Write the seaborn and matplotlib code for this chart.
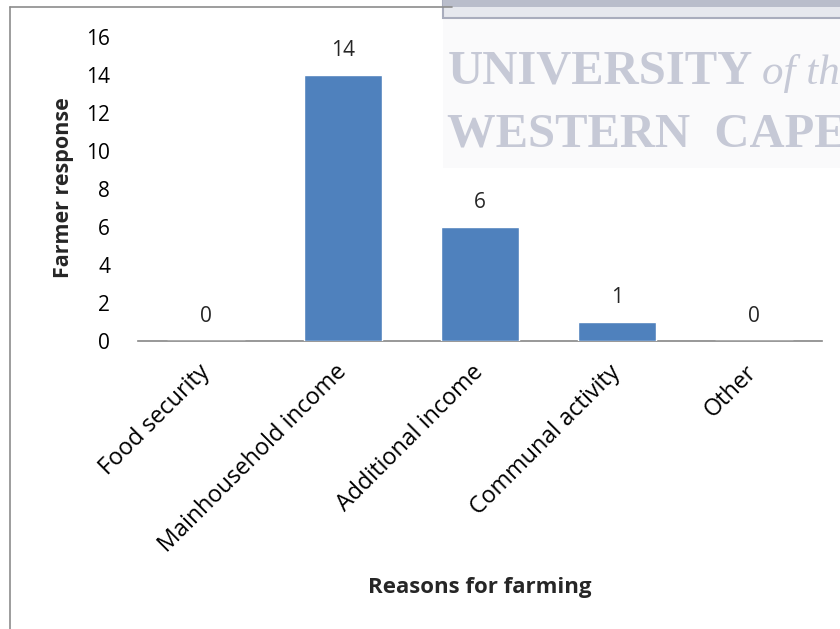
import matplotlib
matplotlib.use("Agg")
import matplotlib.pyplot as plt
import seaborn as sns
import pandas as pd
from matplotlib.patches import Rectangle

categories = ["Food security", "Mainhousehold income", "Additional income",
              "Communal activity", "Other"]
responses = [0, 14, 6, 1, 0]
yticks = [0, 2, 4, 6, 8, 10, 12, 14, 16]

df = pd.DataFrame({"reason": categories, "count": responses})

sns.set_theme(style="white")
plt.rcParams["font.family"] = ["Open Sans", "DejaVu Sans"]

fig = plt.figure(figsize=(8.4, 6.29), dpi=100)
ax = fig.add_axes([138/840, 1-341/629, (822-138)/840, (341-37)/629])

W, H = 840, 629
# watermark / background decoration
fig.patches.append(Rectangle((443/W, 1-168/H), 400/W, 150/H,
                             transform=fig.transFigure, facecolor="#fafafb",
                             edgecolor="none", zorder=0))
fig.patches.append(Rectangle((443/W, 1-18/H), 400/W, 20/H,
                             transform=fig.transFigure, facecolor="#e6e8ee",
                             edgecolor="#a9adbd", lw=1.5, zorder=0))
fig.patches.append(Rectangle((443/W, 1-7/H), 400/W, 8/H,
                             transform=fig.transFigure, facecolor="#b9bdcb",
                             edgecolor="none", zorder=0))
wm = "#c6c9d6"
fig.text(448/W, 1-84/H, "UNIVERSITY", family="Liberation Serif",
         fontsize=35, fontweight="bold", color=wm, va="baseline", zorder=0)
fig.text(762/W, 1-84/H, "of the", family="Liberation Serif",
         fontsize=31, style="italic", color=wm, va="baseline", zorder=0)
fig.text(447/W, 1-147/H, "WESTERN  CAPE", family="Liberation Serif",
         fontsize=35, fontweight="bold", color=wm, va="baseline", zorder=0)
# outer frame
fig.add_artist(plt.Line2D([10/W, 10/W], [0, 1-7/H], transform=fig.transFigure,
                          color="#8c8c8c", lw=1.2))
fig.add_artist(plt.Line2D([10/W, 452/W], [1-7/H, 1-7/H], transform=fig.transFigure,
                          color="#8c8c8c", lw=1.2))

sns.barplot(data=df, x="reason", y="count", color="#4F81BD", width=0.57,
            saturation=1, ax=ax, zorder=3)
ax.patch.set_alpha(0)

ax.set_ylim(0, 16)
ax.set_yticks(yticks)
ax.set_xlim(-0.5, len(categories) - 0.5)
for s in ["top", "right", "left"]:
    ax.spines[s].set_visible(False)
ax.spines["bottom"].set_color("#868686")
ax.spines["bottom"].set_linewidth(1.2)
ax.tick_params(axis="both", length=0, colors="black")
ax.tick_params(axis="y", pad=20, labelsize=15)
ax.tick_params(axis="x", pad=20, labelsize=16.8)
plt.setp(ax.get_xticklabels(), rotation=45, ha="right", va="center",
         rotation_mode="anchor")

ax.bar_label(ax.containers[0], labels=[str(v) for v in responses],
             padding=10, fontsize=15)

ax.set_xlabel("Reasons for farming", fontsize=16, fontweight="bold")
ax.set_ylabel("Farmer response", fontsize=15.5, fontweight="bold")
ax.yaxis.set_label_coords(-0.094, 0.505)
ax.xaxis.set_label_coords(0.5, -0.776)

fig.savefig("out.png", dpi=100)
